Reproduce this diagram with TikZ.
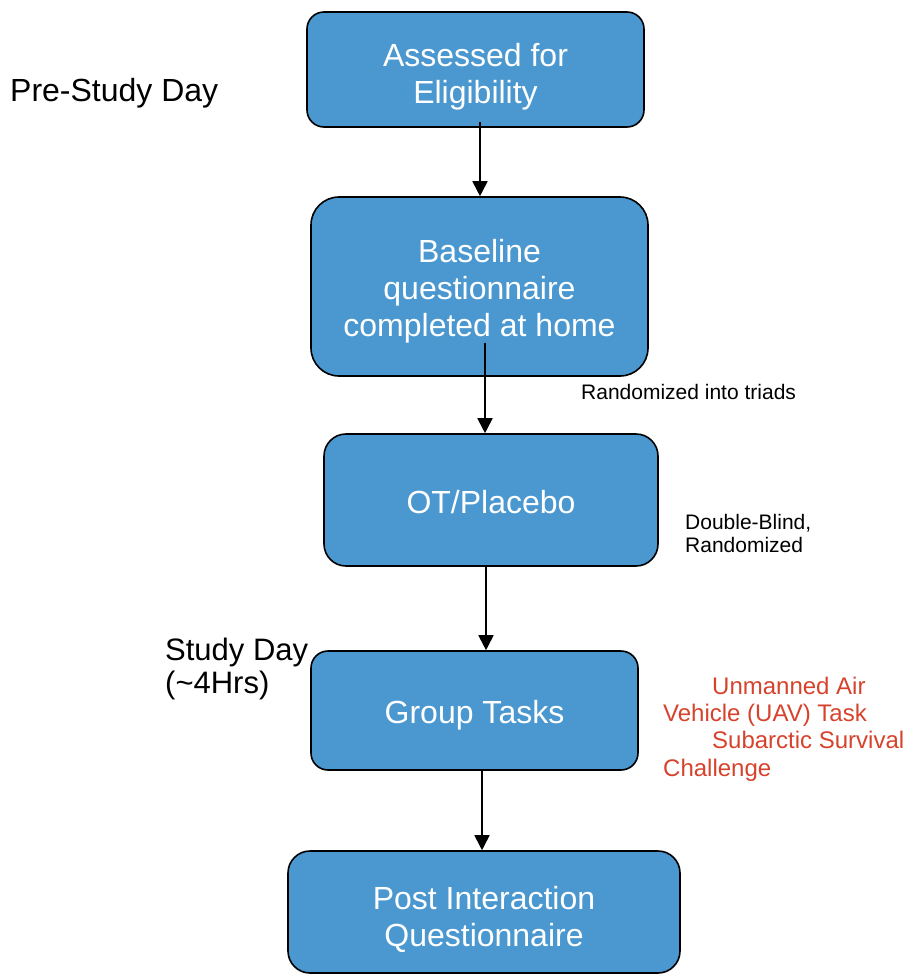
\documentclass[tikz,border=0pt]{standalone}
\usepackage{fontspec}
\setmainfont{Liberation Sans}
\usetikzlibrary{arrows.meta}
\definecolor{boxblue}{RGB}{74,152,207}
\definecolor{taskred}{RGB}{214,66,44}
\begin{document}
\begin{tikzpicture}[x=1pt, y=-1pt,
    stage/.style={draw=black, line width=1.6pt, fill=boxblue, text=white,
                  align=center, inner sep=0pt, rounded corners=17pt,
                  font=\fontsize{32}{37}\selectfont},
    textdrop/.style={text height=#1},
    side/.style={anchor=west, align=left, inner sep=0pt},
    arr/.style={line width=1.8pt, -{Triangle[width=15pt,length=15pt]}}]

\useasboundingbox (0,0) rectangle (907,975);

\node[stage, textdrop=75pt, minimum width=337pt, minimum height=115pt] (assess) at (475.5,69.5)
    {Assessed for\\Eligibility};
\node[stage, textdrop=106pt, minimum width=337pt, minimum height=179pt, rounded corners=28pt] (base) at (479.5,286.5)
    {Baseline\\questionnaire\\completed at home};
\node[stage, textdrop=27pt, minimum width=334pt, minimum height=132pt, rounded corners=22pt] (ot) at (491,500)
    {OT/Placebo};
\node[stage, textdrop=33pt, minimum width=327pt, minimum height=119pt] (grp) at (474.5,710.5)
    {Group Tasks};
\node[stage, textdrop=75pt, minimum width=392pt, minimum height=122pt, rounded corners=22pt] (post) at (484,912)
    {Post Interaction\\Questionnaire};

\node[side, font=\fontsize{32}{33}\selectfont] (prestudy) at (10,93) {Pre-Study Day};
\node[side, font=\fontsize{31}{33}\selectfont] (studyday) at (165,669) {Study Day\\(\textasciitilde 4Hrs)};
\node[side, font=\fontsize{21}{23}\selectfont] (triads) at (581,392) {Randomized into triads};
\node[side, font=\fontsize{21}{23}\selectfont] (blind) at (685,533) {Double-Blind,\\Randomized};
\node[side, text=taskred, font=\fontsize{24}{27.3}\selectfont] (tasks) at (663,729)
    {\hspace*{49pt}Unmanned Air\\Vehicle (UAV) Task\\\hspace*{49pt}Subarctic Survival\\Challenge};

\coordinate (s1) at (480,122);
\coordinate (s2) at (485,343);
\coordinate (s3) at (486,567);
\coordinate (s4) at (482,770);

\draw[arr] (s1) -- (s1 |- base.north);
\draw[arr] (s2) -- (s2 |- ot.north);
\draw[arr] (s3) -- (s3 |- grp.north);
\draw[arr] (s4) -- (s4 |- post.north);

\end{tikzpicture}
\end{document}
